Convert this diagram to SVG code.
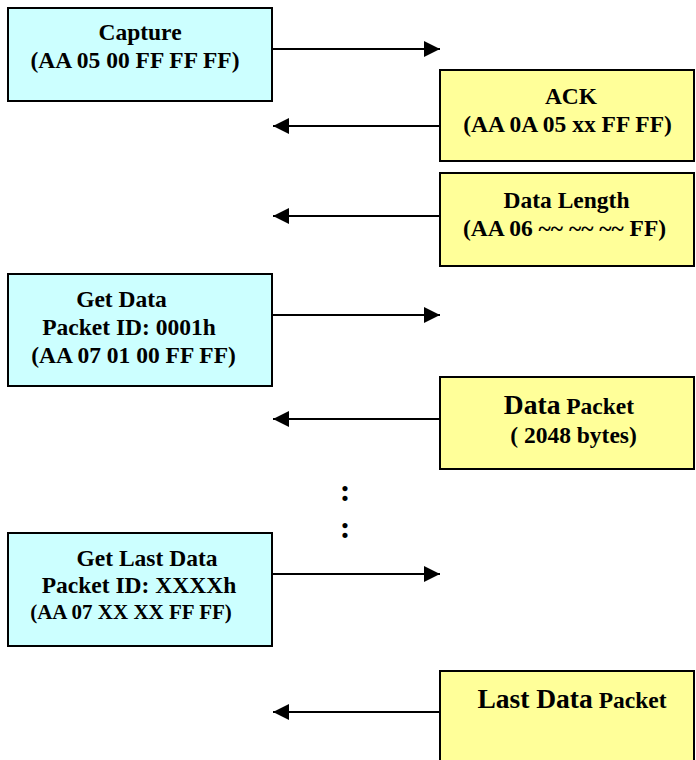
<svg xmlns="http://www.w3.org/2000/svg" width="696" height="760" viewBox="0 0 696 760">
  <style>
    .host { fill: #CCFFFF; stroke: #000; stroke-width: 2; }
    .dev { fill: #FFFF99; stroke: #000; stroke-width: 2; }
    text { font-family: "Liberation Serif", "Times New Roman", serif; font-weight: bold; fill: #000; text-anchor: middle; }
    .t { font-size: 23.5px; }
    .s { font-size: 21px; }
    .big { font-size: 27.5px; }
    .dots { font-size: 32px; }
    .wire { stroke: #000; stroke-width: 2; fill: none; marker-end: url(#head); }
  </style>
  <defs>
    <marker id="head" markerUnits="userSpaceOnUse" markerWidth="17" markerHeight="16" refX="16" refY="8" orient="auto">
      <path d="M0,0 L16,8 L0,16 Z" fill="#000"/>
    </marker>
  </defs>
  <rect width="696" height="760" fill="#fff"/>

  <!-- connectors -->
  <g id="connectors">
    <line class="wire" x1="272" y1="49" x2="440" y2="49"/>
    <line class="wire" x1="440" y1="126" x2="273" y2="126"/>
    <line class="wire" x1="440" y1="216" x2="273" y2="216"/>
    <line class="wire" x1="272" y1="315" x2="440" y2="315"/>
    <line class="wire" x1="440" y1="419" x2="273" y2="419"/>
    <line class="wire" x1="272" y1="574" x2="440" y2="574"/>
    <line class="wire" x1="440" y1="712" x2="273" y2="712"/>
  </g>

  <!-- host-side commands -->
  <g id="capture">
    <rect class="host" x="8" y="8" width="264" height="93"/>
    <text class="t" x="140" y="40">Capture</text>
    <text class="t" x="135" y="68">(AA 05 00 FF FF FF)</text>
  </g>
  <g id="get-data">
    <rect class="host" x="8" y="274" width="264" height="112"/>
    <text class="t" x="121.5" y="307">Get Data</text>
    <text class="t" x="129" y="335">Packet ID: 0001h</text>
    <text class="t" x="133.5" y="363">(AA 07 01 00 FF FF)</text>
  </g>
  <g id="get-last-data">
    <rect class="host" x="8" y="533" width="264" height="113"/>
    <text class="t" x="147" y="566">Get Last Data</text>
    <text class="t" x="139" y="593">Packet ID: XXXXh</text>
    <text class="s" x="131" y="619">(AA 07 XX XX FF FF)</text>
  </g>

  <!-- device-side responses -->
  <g id="ack">
    <rect class="dev" x="440" y="70" width="254" height="91"/>
    <text class="t" x="571" y="104">ACK</text>
    <text class="t" x="567.5" y="132">(AA 0A 05 xx FF FF)</text>
  </g>
  <g id="data-length">
    <rect class="dev" x="440" y="173" width="254" height="93"/>
    <text class="t" x="566.5" y="208">Data Length</text>
    <text class="t" x="564.5" y="236">(AA 06 ~~ ~~ ~~ FF)</text>
  </g>
  <g id="data-packet">
    <rect class="dev" x="440" y="377" width="254" height="92"/>
    <text x="569" y="414"><tspan class="big">Data</tspan><tspan class="t"> Packet</tspan></text>
    <text class="t" x="573.5" y="443">( 2048 bytes)</text>
  </g>
  <g id="last-data-packet">
    <rect class="dev" x="440" y="671" width="254" height="100"/>
    <text x="572" y="708"><tspan class="big">Last Data</tspan><tspan class="t"> Packet</tspan></text>
  </g>

  <!-- continuation marks -->
  <g id="ellipsis">
    <text class="dots" x="345" y="501">:</text>
    <text class="dots" x="345" y="538">:</text>
  </g>
</svg>
